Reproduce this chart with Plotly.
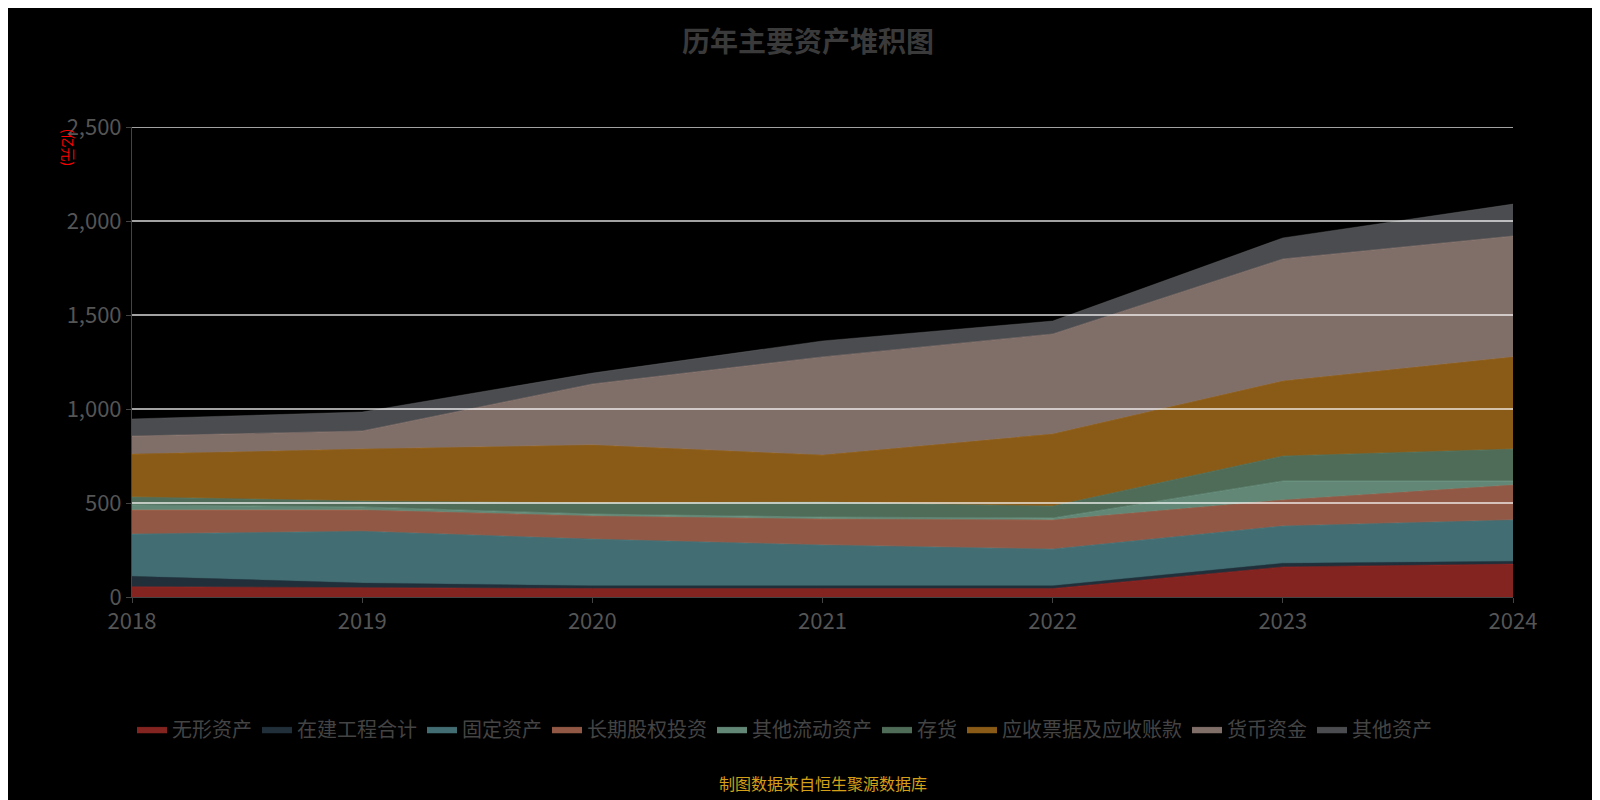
import plotly.graph_objects as go

years = ["2018", "2019", "2020", "2021", "2022", "2023", "2024"]
names = ["无形资产", "在建工程合计", "固定资产", "长期股权投资", "其他流动资产",
         "存货", "应收票据及应收账款", "货币资金", "其他资产"]
wuxing = [55, 50, 45, 45, 45, 160, 175]
zaijian = [55, 25, 15, 15, 15, 20, 15]
guding = [225, 275, 248, 217, 195, 198, 220]
changqi = [128, 113, 123, 138, 155, 138, 186]
qitaliudong = [27, 16, 10, 10, 10, 101, 21]
cunhuo = [42, 32, 59, 80, 64, 133, 170]
yingshou = [228, 276, 309, 250, 383, 399, 490]
huobi = [96, 96, 324, 522, 532, 649, 643]
qita = [91, 101, 58, 85, 69, 112, 170]
series = [wuxing, zaijian, guding, changqi, qitaliudong, cunhuo, yingshou, huobi, qita]
yticks = [500, 1000, 1500, 2000, 2500]

colors = ["#c23531", "#2f4554", "#61a0a8", "#d48265", "#91c7ae",
          "#749f83", "#ca8622", "#bda29a", "#6e7074"]


def rgba(h, a):
    h = h.lstrip("#")
    return "rgba(%d,%d,%d,%s)" % (int(h[0:2], 16), int(h[2:4], 16), int(h[4:6], 16), a)


fig = go.Figure()
for n, v, c in zip(names, series, colors):
    fig.add_trace(go.Scatter(
        x=years, y=v, name=n, stackgroup="one", mode="lines",
        line=dict(color=rgba(c, 0.7), width=0.5),
        fillcolor=rgba(c, 0.68),
    ))

# gridlines drawn over the areas, like the original
for t in yticks:
    fig.add_hline(y=t, line=dict(color="rgba(255,255,255,0.85)", width=1.5), layer="above")

fig.update_layout(
    width=1600, height=800,
    paper_bgcolor="black", plot_bgcolor="black",
    font=dict(family="Noto Sans CJK SC", color="#555555"),
    title=dict(text="<b>历年主要资产堆积图</b>", x=0.5, y=0.97,
               font=dict(size=28, color="#3a3a3a")),
    margin=dict(l=124, r=95, t=119, b=211),
    legend=dict(orientation="h", x=0, y=-0.24, xanchor="left", yanchor="top",
                traceorder="normal", font=dict(size=20, color="#444444")),
    xaxis=dict(type="category", range=[0, 6], showgrid=False, tickfont=dict(size=22),
               showline=True, linecolor="#444444", ticks="outside", tickcolor="#444444"),
    yaxis=dict(range=[0, 2500], dtick=500, tickformat=",", tickfont=dict(size=22),
               showgrid=False, zeroline=False,
               showline=True, linecolor="#444444", ticks="outside", tickcolor="#444444"),
    annotations=[
        dict(text="(亿元)", textangle=90, x=-0.045, y=1.0, xref="paper", yref="paper",
             xanchor="center", yanchor="top", showarrow=False,
             font=dict(size=14, color="red")),
        dict(text="制图数据来自恒生聚源数据库", x=0.5, y=-0.365, xref="paper",
             yref="paper", yanchor="top", showarrow=False,
             font=dict(size=16, color="#d4a017")),
    ],
)

fig.write_html("out.html")
